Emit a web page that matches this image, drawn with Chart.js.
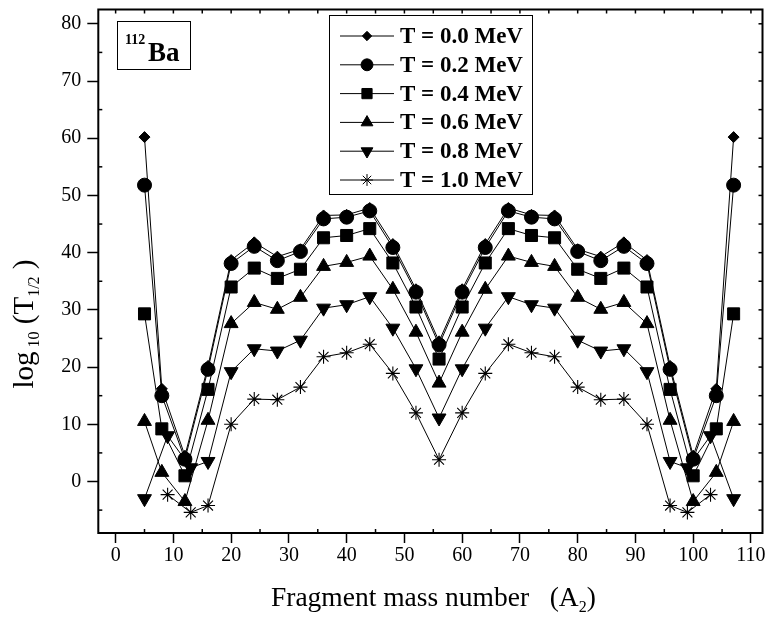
<!DOCTYPE html>
<html>
<head>
<meta charset="utf-8">
<script src="https://cdn.jsdelivr.net/npm/chart.js@4.4.0/dist/chart.umd.min.js"></script>
<style>
  body { margin: 0; background: #fff; }
  #wrap { width: 772px; height: 618px; }
</style>
</head>
<body>
<div id="wrap"><canvas id="myChart" width="772" height="618"></canvas></div>
<script>
const SERIF = '"Liberation Serif", "Times New Roman", serif';

// fragment mass numbers A2
const xsMain = [5, 8, 12, 16, 20, 24, 28, 32, 36, 40, 44, 48, 52, 56, 60, 64, 68, 72, 76, 80, 84, 88, 92, 96, 100, 104, 107];
const xsT08  = [5, 9, 13, 16, 20, 24, 28, 32, 36, 40, 44, 48, 52, 56, 60, 64, 68, 72, 76, 80, 84, 88, 92, 96, 99, 103, 107];
const xsT10  = [9, 13, 16, 20, 24, 28, 32, 36, 40, 44, 48, 52, 56, 60, 64, 68, 72, 76, 80, 84, 88, 92, 96, 99, 103];

// log10(T1/2) per temperature
const logT00 = [60.2, 16.2, 4.5, 20.2, 38.7, 41.8, 39.3, 40.6, 46.5, 46.6, 47.8, 41.5, 33.6, 24.5, 33.6, 41.5, 47.8, 46.6, 46.5, 40.6, 39.3, 41.8, 38.7, 20.2, 4.5, 16.2, 60.2];
const logT02 = [51.8, 15.0, 3.9, 19.6, 38.1, 41.1, 38.6, 40.2, 45.9, 46.2, 47.3, 40.9, 33.1, 23.9, 33.1, 40.9, 47.3, 46.2, 45.9, 40.2, 38.6, 41.1, 38.1, 19.6, 3.9, 15.0, 51.8];
const logT04 = [29.3, 9.2, 1.0, 16.1, 34.0, 37.3, 35.5, 37.1, 42.6, 43.0, 44.2, 38.2, 30.5, 21.4, 30.5, 38.2, 44.2, 43.0, 42.6, 37.1, 35.5, 37.3, 34.0, 16.1, 1.0, 9.2, 29.3];
const logT06 = [10.5, 1.6, -3.5, 10.7, 27.6, 31.3, 30.1, 32.2, 37.6, 38.3, 39.4, 33.6, 26.1, 17.2, 26.1, 33.6, 39.4, 38.3, 37.6, 32.2, 30.1, 31.3, 27.6, 10.7, -3.5, 1.6, 10.5];
const logT08 = [-3.0, 8.0, 2.4, 3.5, 19.2, 23.2, 22.8, 24.7, 30.3, 30.9, 32.3, 26.8, 19.7, 11.1, 19.7, 26.8, 32.3, 30.9, 30.3, 24.7, 22.8, 23.2, 19.2, 3.5, 2.4, 8.0, -3.0];
const logT10 = [-2.3, -5.4, -4.2, 10.0, 14.4, 14.3, 16.5, 21.8, 22.5, 24.0, 18.9, 12.0, 3.8, 12.0, 18.9, 24.0, 22.5, 21.8, 16.5, 14.3, 14.4, 10.0, -4.2, -5.4, -2.3];

const seriesLabels = ['T = 0.0 MeV', 'T = 0.2 MeV', 'T = 0.4 MeV', 'T = 0.6 MeV', 'T = 0.8 MeV', 'T = 1.0 MeV'];

// axis ticks
const xTicks = [0, 10, 20, 30, 40, 50, 60, 70, 80, 90, 100, 110];
const xMinor = [5, 15, 25, 35, 45, 55, 65, 75, 85, 95, 105];
const yTicks = [0, 10, 20, 30, 40, 50, 60, 70, 80];
const yMinor = [-5, 5, 15, 25, 35, 45, 55, 65, 75];

const pts = (xs, ys) => xs.map((x, i) => ({ x: x, y: ys[i] }));

const markers = [
  { pointStyle: 'rectRot', pointRadius: 5.5, pointRotation: 0, pointBorderWidth: 1 },
  { pointStyle: 'circle', pointRadius: 7, pointRotation: 0, pointBorderWidth: 1 },
  { pointStyle: 'rect', pointRadius: 8.5, pointRotation: 0, pointBorderWidth: 1 },
  { pointStyle: 'triangle', pointRadius: 8, pointRotation: 0, pointBorderWidth: 1 },
  { pointStyle: 'triangle', pointRadius: 8, pointRotation: 180, pointBorderWidth: 1 },
  { pointStyle: 'star', pointRadius: 7, pointRotation: 0, pointBorderWidth: 1.1 }
];

const seriesData = [
  pts(xsMain, logT00), pts(xsMain, logT02), pts(xsMain, logT04),
  pts(xsMain, logT06), pts(xsT08, logT08), pts(xsT10, logT10)
];

const datasets = seriesData.map((d, i) => Object.assign({
  label: seriesLabels[i],
  data: d,
  borderColor: '#000',
  backgroundColor: '#000',
  pointBackgroundColor: '#000',
  pointBorderColor: '#000',
  borderWidth: 1,
  tension: 0,
  fill: false
}, markers[i]));

// frame, minor ticks, titles, legend and nucleus label
const decorPlugin = {
  id: 'decor',
  afterDraw(chart) {
    const { ctx, chartArea: a, scales: { x, y } } = chart;
    ctx.save();
    ctx.strokeStyle = '#000';
    ctx.fillStyle = '#000';

    ctx.lineWidth = 2;
    ctx.strokeRect(a.left, a.top, a.right - a.left, a.bottom - a.top);

    const seg = (x1, y1, x2, y2) => { ctx.beginPath(); ctx.moveTo(x1, y1); ctx.lineTo(x2, y2); ctx.stroke(); };
    ctx.lineWidth = 1.5;
    xMinor.forEach(v => { const p = x.getPixelForValue(v); seg(p, a.bottom, p, a.bottom - 4); });
    yMinor.forEach(v => { const p = y.getPixelForValue(v); seg(a.left, p, a.left + 4, p); });
    xTicks.concat(xMinor).forEach(v => { const p = x.getPixelForValue(v); seg(p, a.top, p, a.top + 4); });
    yTicks.concat(yMinor).forEach(v => { const p = y.getPixelForValue(v); seg(a.right, p, a.right - 4, p); });

    // x title
    const xt = [['Fragment mass number   (A', 27.5, 0], ['2', 16, 6], [')', 27.5, 0]];
    drawRuns(ctx, xt, (a.left + a.right) / 2 + 3, 606);

    // y title (rotated)
    ctx.save();
    ctx.translate(33, 324);
    ctx.rotate(-Math.PI / 2);
    const yt = [['log', 29, 0], [' 10', 16, 6], [' (T', 29, 0], ['1/2', 16, 6], [' )', 29, 0]];
    drawRuns(ctx, yt, 0, 0);
    ctx.restore();

    // nucleus label
    ctx.lineWidth = 1;
    ctx.strokeRect(117.5, 21.5, 73, 48);
    ctx.textAlign = 'left';
    ctx.textBaseline = 'alphabetic';
    ctx.font = 'bold 14px ' + SERIF;
    ctx.fillText('112', 125, 44);
    ctx.font = 'bold 27px ' + SERIF;
    ctx.fillText('Ba', 148, 61);

    // legend
    ctx.lineWidth = 1;
    ctx.strokeRect(329.5, 15.5, 203, 179);
    ctx.font = 'bold 23px ' + SERIF;
    ctx.textBaseline = 'middle';
    chart.data.datasets.forEach((ds, i) => {
      const ry = 36 + i * 28.8;
      ctx.lineWidth = 1;
      seg(340, ry, 394, ry);
      Chart.helpers.drawPoint(ctx, {
        pointStyle: ds.pointStyle, rotation: ds.pointRotation,
        radius: ds.pointRadius * 0.85, borderWidth: ds.pointBorderWidth
      }, 367, ry);
      ctx.fillText(ds.label, 400, ry + 1);
    });
    ctx.restore();
  }
};

function drawRuns(ctx, runs, cx, baseY) {
  let total = 0;
  runs.forEach(r => { ctx.font = r[1] + 'px ' + SERIF; total += ctx.measureText(r[0]).width; });
  let px = cx - total / 2;
  ctx.textAlign = 'left';
  ctx.textBaseline = 'alphabetic';
  runs.forEach(r => {
    ctx.font = r[1] + 'px ' + SERIF;
    ctx.fillText(r[0], px, baseY + r[2]);
    px += ctx.measureText(r[0]).width;
  });
}

const config = {
  type: 'line',
  data: { datasets },
  options: {
    responsive: false,
    animation: false,
    layout: { padding: { top: 9.5, right: 9.3, left: 0, bottom: 0 } },
    plugins: { legend: { display: false }, tooltip: { enabled: false } },
    scales: {
      x: {
        type: 'linear',
        min: -3,
        max: 112,
        afterBuildTicks: s => { s.ticks = xTicks.map(v => ({ value: v })); },
        afterFit: s => { s.height = 85; s.paddingLeft = 0; s.paddingRight = 0; },
        grid: { drawOnChartArea: false, tickLength: 10, tickWidth: 1.5, tickColor: '#000' },
        border: { display: false },
        ticks: { color: '#000', font: { family: SERIF, size: 20 }, padding: 1, maxRotation: 0, autoSkip: false }
      },
      y: {
        type: 'linear',
        min: -9,
        max: 82.5,
        afterBuildTicks: s => { s.ticks = yTicks.map(v => ({ value: v })); },
        afterFit: s => { s.width = 98.3; s.paddingTop = 0; s.paddingBottom = 0; },
        grid: { drawOnChartArea: false, tickLength: 11, tickWidth: 1.5, tickColor: '#000' },
        border: { display: false },
        ticks: { color: '#000', font: { family: SERIF, size: 20 }, padding: 6, autoSkip: false }
      }
    }
  },
  plugins: [decorPlugin]
};

const myChart = new Chart(document.getElementById('myChart'), config);
</script>
</body>
</html>
